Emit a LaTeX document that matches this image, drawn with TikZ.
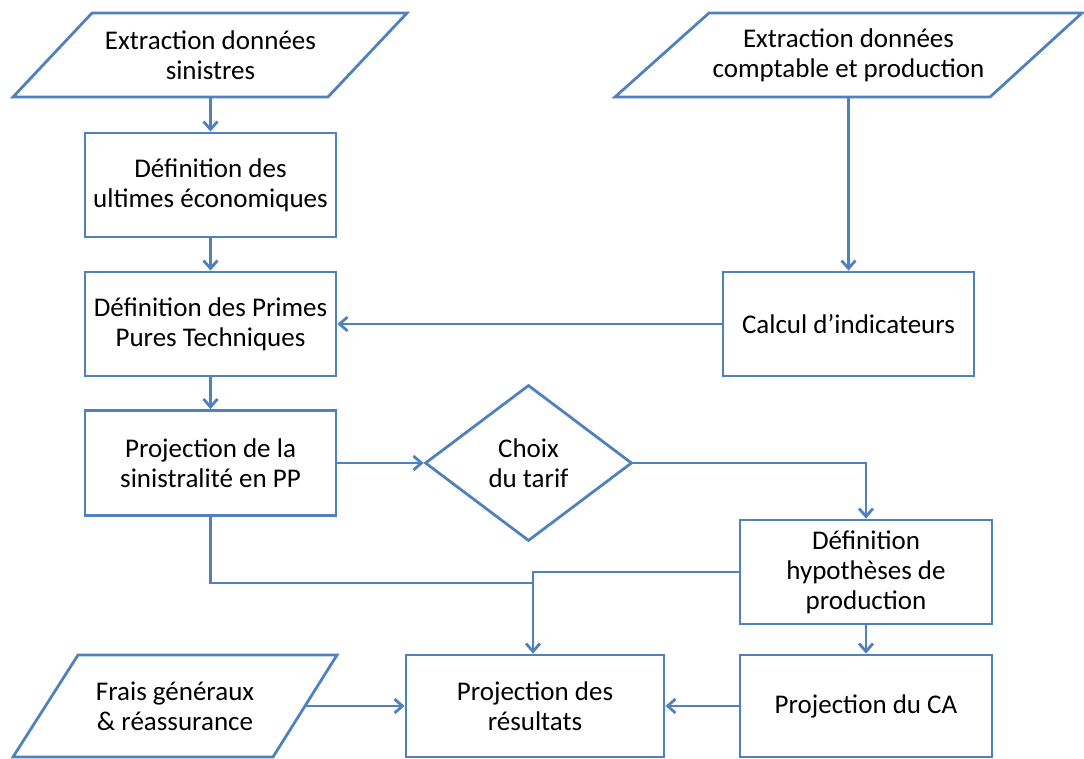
\documentclass[tikz,border=0pt]{standalone}
\usepackage{fontspec}
\setmainfont{Carlito}
\usetikzlibrary{arrows.meta,shapes.geometric}
\definecolor{flowblue}{HTML}{4F81BD}
\begin{document}
\begin{tikzpicture}[x=1pt,y=-1pt,
  line width=2.8pt,
  every node/.style={font=\fontsize{27}{30}\selectfont, align=center, inner sep=0pt},
  box/.style={draw=flowblue, rectangle, minimum width=251pt, minimum height=104pt},
  choice/.style={draw=flowblue, diamond, minimum width=207pt, minimum height=156pt},
  para/.style={draw=flowblue, line join=miter},
  label/.style={minimum height=84pt},
  conn/.style={draw=flowblue, -{Straight Barb[length=8pt,width=14pt,line width=2.8pt]}},
  plain/.style={draw=flowblue}]
\useasboundingbox (0,0) rectangle (1084,758);

% parallelograms (drawn directly)
\draw[para] (92,13) -- (407,13) -- (328,97) -- (13,97) -- cycle;
\node[label] (p1) at (210.5,55) {Extraction données\\sinistres};

\draw[para] (709,13) -- (1082,13) -- (990,97) -- (615,97) -- cycle;
\node[label] (p2) at (848.5,55) {Extraction données\\comptable et production};

\draw[para] (78,655) -- (337,655) -- (273,757) -- (13,757) -- cycle;
\node (p3) at (175,706) {Frais généraux\\\& réassurance};
\coordinate (p3e) at (305,706);

% boxes
\node[box] (b1) at (210.5,185) {Définition des\\ultimes économiques};
\node[box] (b2) at (210.5,324) {Définition des Primes\\Pures Techniques};
\node[box, minimum height=105pt] (b3) at (210.5,463) {Projection de la\\sinistralité en PP};
\node[choice] (d) at (528.5,463) {Choix\\du tarif};
\node[box] (c1) at (848.5,324) {Calcul d’indicateurs};
\node[box, minimum width=252pt] (b4) at (866,572) {Définition\\hypothèses de\\production};
\node[box, minimum width=252pt, minimum height=102pt] (b5) at (866,706) {Projection du CA};
\node[box, minimum width=258pt, minimum height=102pt] (r) at (535,706) {Projection des\\résultats};

% connectors
\draw[conn] (p1.south) -- (b1.north);
\draw[conn] (b1.south) -- (b2.north);
\draw[conn] (b2.south) -- (b3.north);
\draw[conn] (p2.south) -- (c1.north);
\draw[conn] (c1.west) -- (b2.east);
\draw[conn] (b3.east) -- (d.west);
\draw[conn] (d.east) -| (b4.north);
\coordinate (j) at (533,572);
\coordinate (j2) at (533,583);
\draw[plain] (b3.south) |- (j2);
\draw[conn] (b4.west) -- (j) -- (j |- r.north);
\draw[conn] (b4.south) -- (b5.north);
\draw[conn] (b5.west) -- (r.east);
\draw[conn] (p3e) -- (r.west);
\end{tikzpicture}
\end{document}
